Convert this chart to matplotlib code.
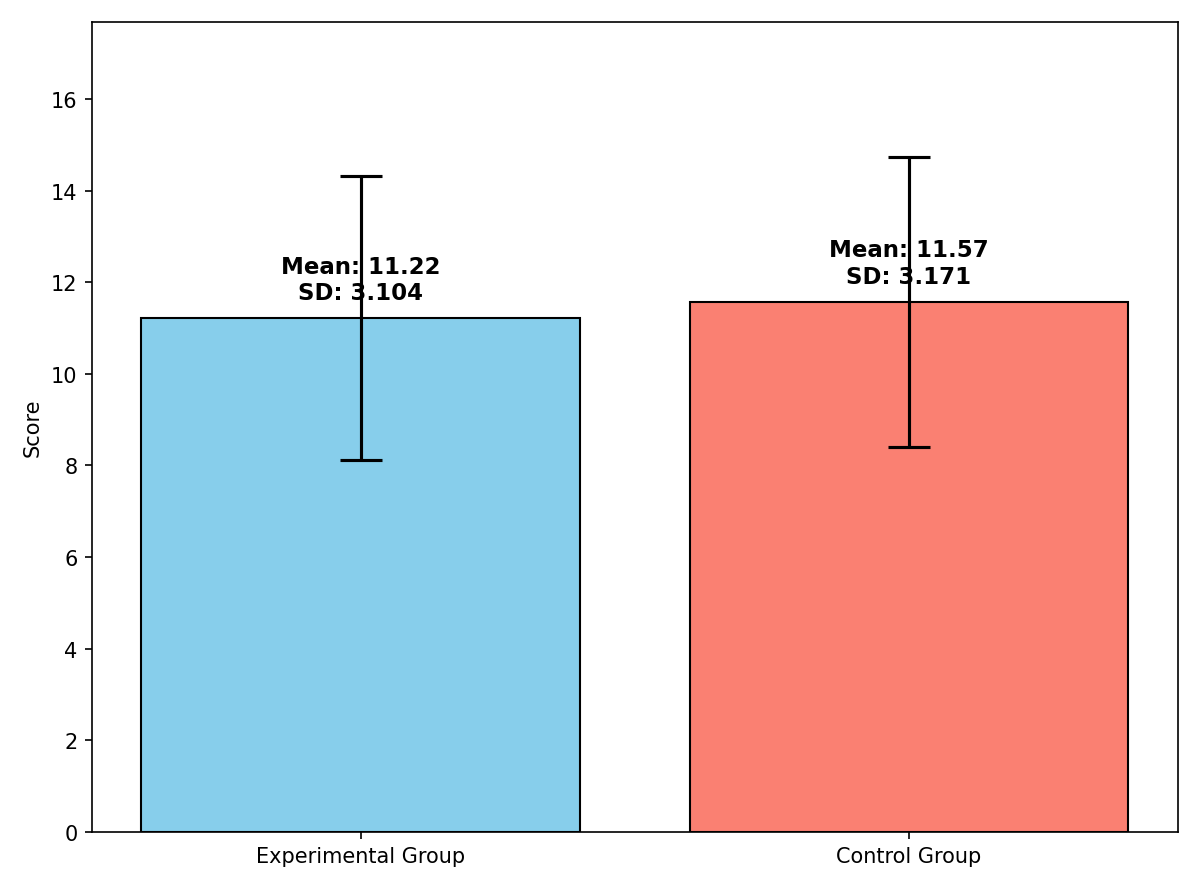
import matplotlib
matplotlib.use("Agg")
import matplotlib.pyplot as plt
import numpy as np

groups = ["Experimental Group", "Control Group"]
means = [11.22, 11.57]
sds = [3.104, 3.171]
colors = ["skyblue", "salmon"]

fig, ax = plt.subplots(figsize=(8, 5.933), dpi=150)
x = np.arange(len(groups))
ax.bar(x, means, yerr=sds, capsize=10, color=colors, edgecolor="black",
       error_kw=dict(elinewidth=1.5, capthick=1.5))
for xi, m, s in zip(x, means, sds):
    ax.text(xi, m + 0.3, f"Mean: {m:.2f}\nSD: {s:.3f}", ha="center", va="bottom",
            fontsize=11, fontweight="bold")
ax.set_xticks(x)
ax.set_xticklabels(groups)
ax.set_ylabel("Score")
ax.set_ylim(0, max(m + s for m, s in zip(means, sds)) * 1.2)
fig.tight_layout()
fig.savefig("out.png")
